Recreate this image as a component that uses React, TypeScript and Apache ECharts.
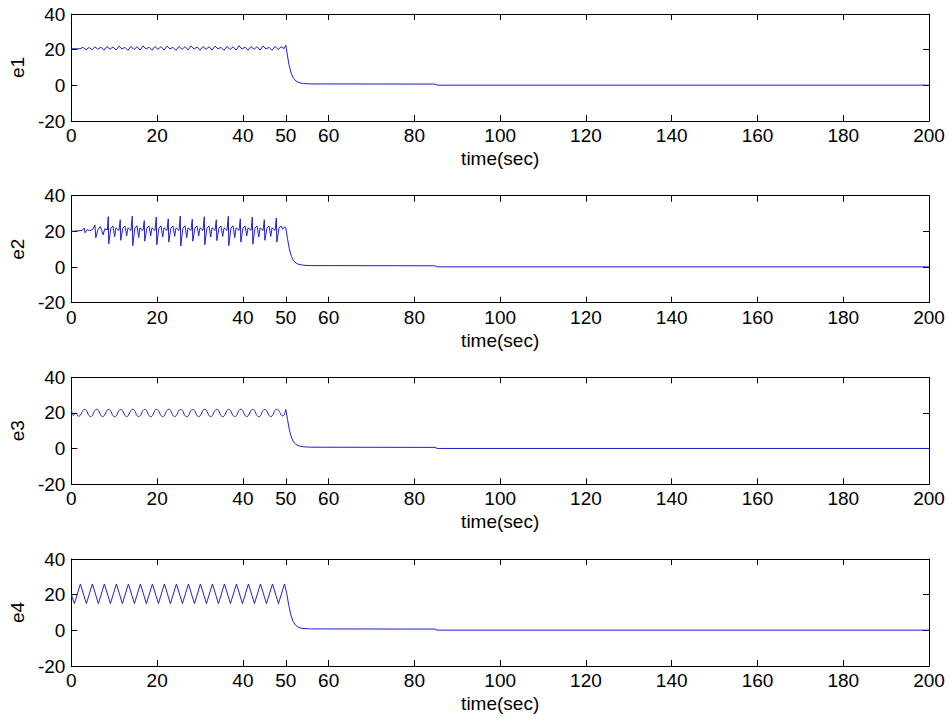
import React, { useEffect, useRef } from "react";
import * as echarts from "echarts";

const X_TICKS = [0, 20, 40, 50, 60, 80, 100, 120, 140, 160, 180, 200];
const Y_TICKS = [-20, 0, 20, 40];
const Y_NAMES = ["e1", "e2", "e3", "e4"];
const X_NAME = "time(sec)";

const e1 = [
  [0, 20.5], [2.0, 20.5], [2.7, 21.3], [3.4, 19.9], [4.1, 21.2], [4.8, 20.0], [5.5, 21.6], [6.2, 20.2],
  [6.9, 21.4], [7.6, 19.7], [8.3, 21.8], [9.0, 20.3], [9.7, 21.5], [10.4, 19.8], [11.1, 22.0], [11.8, 20.4],
  [12.5, 21.3], [13.2, 19.6], [13.9, 21.9], [14.6, 20.1], [15.3, 21.6], [16.0, 19.8], [16.7, 22.1], [17.4, 20.3],
  [18.1, 21.4], [18.8, 19.7], [19.5, 21.8], [20.2, 20.2], [20.9, 21.7], [21.6, 19.8], [22.3, 22.0], [23.0, 20.4],
  [23.7, 21.3], [24.4, 19.6], [25.1, 21.9], [25.8, 20.1], [26.5, 21.7], [27.2, 19.9], [27.9, 22.1], [28.6, 20.3],
  [29.3, 21.5], [30.0, 19.7], [30.7, 21.8], [31.4, 20.2], [32.1, 21.6], [32.8, 19.8], [33.5, 22.0], [34.2, 20.4],
  [34.9, 21.3], [35.6, 19.6], [36.3, 21.9], [37.0, 20.1], [37.7, 21.6], [38.4, 19.8], [39.1, 22.2], [39.8, 20.3],
  [40.5, 21.4], [41.2, 19.7], [41.9, 21.8], [42.6, 20.2], [43.3, 21.7], [44.0, 19.8], [44.7, 22.0], [45.4, 20.4],
  [46.1, 21.3], [46.8, 19.6], [47.5, 21.9], [48.2, 20.1], [48.9, 21.6], [49.6, 20.6], [50.0, 22.5],
  [50.4, 16.5], [50.8, 11], [51.3, 6.5], [51.8, 3.9], [52.4, 2.4], [53.1, 1.5], [54.2, 1.0], [56, 0.8],
  [84.8, 0.7], [85.3, 0.1], [200, 0.1],
];

const e2 = [
  [0, 20], [2.5, 20.5], [3.0, 21.8], [3.2, 19.2], [3.7, 21], [4.3, 20.3], [5.0, 21.2], [5.5, 23.5], [5.7, 16.5],
  [6.2, 21], [6.7, 22.6], [7.1, 20.5], [7.4, 18], [7.8, 21.5], [8.4, 20.8],
  [8.6, 28.2], [8.72, 13], [9.2, 21.8], [9.7, 23], [10.1, 17], [10.4, 22], [11.1, 20.5],
  [11.4, 26.5], [11.52, 15], [12.0, 21.8], [12.5, 23], [12.9, 17.5], [13.2, 22], [13.9, 20.5],
  [14.2, 28.5], [14.32, 12], [14.8, 21.8], [15.3, 23.2], [15.7, 16.5], [16.0, 22], [16.7, 20.5],
  [17.0, 26], [17.12, 14.5], [17.6, 21.8], [18.1, 23], [18.5, 17.5], [18.8, 22], [19.5, 20.5],
  [19.8, 28], [19.92, 12.5], [20.4, 21.8], [20.9, 23.1], [21.3, 16.8], [21.6, 22], [22.3, 20.5],
  [22.6, 27], [22.72, 14], [23.2, 21.8], [23.7, 23], [24.1, 17.2], [24.4, 22], [25.1, 20.5],
  [25.4, 28.6], [25.52, 11.8], [26.0, 21.8], [26.5, 23.2], [26.9, 16.5], [27.2, 22], [27.9, 20.5],
  [28.2, 26.8], [28.32, 14.5], [28.8, 21.8], [29.3, 23], [29.7, 17.5], [30.0, 22], [30.7, 20.5],
  [31.0, 28.2], [31.12, 12.5], [31.6, 21.8], [32.1, 23.1], [32.5, 16.8], [32.8, 22], [33.5, 20.5],
  [33.8, 26.5], [33.92, 14.8], [34.4, 21.8], [34.9, 23], [35.3, 17.2], [35.6, 22], [36.3, 20.5],
  [36.6, 28.4], [36.72, 12], [37.2, 21.8], [37.7, 23.2], [38.1, 16.5], [38.4, 22], [39.1, 20.5],
  [39.4, 27], [39.52, 14], [40.0, 21.8], [40.5, 23], [40.9, 17.5], [41.2, 22], [41.9, 20.5],
  [42.2, 28], [42.32, 12.8], [42.8, 21.8], [43.3, 23.1], [43.7, 16.8], [44.0, 22], [44.7, 20.5],
  [45.0, 26.5], [45.12, 15], [45.6, 21.8], [46.1, 23], [46.5, 17.2], [46.8, 22], [47.5, 20.5],
  [47.8, 27.5], [47.92, 14], [48.4, 21.8], [48.9, 23], [49.3, 21.2], [49.7, 22.5], [50.0, 22],
  [50.4, 16], [50.8, 10.5], [51.3, 6], [51.8, 3.6], [52.4, 2.2], [53.1, 1.4], [54.2, 1.0], [56, 0.8],
  [84.8, 0.7], [85.3, 0.1], [200, 0.1],
];

const e3Osc = [
  [0, 22.2], [0.5, 18.6], [1.0, 20.0], [1.7, 18.2], [3.1, 22], [4.5, 18], [5.9, 22.1], [7.3, 18], [8.7, 22],
  [10.1, 17.9], [11.5, 22], [12.9, 18], [14.3, 22.1], [15.7, 18], [17.1, 22], [18.5, 17.9], [19.9, 22],
  [21.3, 18], [22.7, 22.1], [24.1, 18], [25.5, 22], [26.9, 17.9], [28.3, 22], [29.7, 18], [31.1, 22.1],
  [32.5, 18], [33.9, 22], [35.3, 17.9], [36.7, 22], [38.1, 18], [39.5, 22.1], [40.9, 18], [42.3, 22],
  [43.7, 17.9], [45.1, 22], [46.5, 18], [47.9, 22.1], [49.3, 18.3], [50.0, 22],
];

const e3Decay = [
  [50.0, 22], [50.4, 16.5], [50.8, 11], [51.3, 6.5], [51.8, 3.8], [52.4, 2.3], [53.1, 1.5], [54.2, 1.0],
  [56, 0.8], [84.8, 0.7], [85.3, 0.1], [200, 0.1],
];

const e4 = [
  [0, 20], [0.7, 15], [2.1, 26], [3.5, 15], [4.9, 26], [6.3, 15], [7.7, 26], [9.1, 15], [10.5, 26],
  [11.9, 15], [13.3, 26], [14.7, 15], [16.1, 26], [17.5, 15], [18.9, 26], [20.3, 15], [21.7, 26],
  [23.1, 15], [24.5, 26], [25.9, 15], [27.3, 26], [28.7, 15], [30.1, 26], [31.5, 15], [32.9, 26],
  [34.3, 15], [35.7, 26], [37.1, 15], [38.5, 26], [39.9, 15], [41.3, 26], [42.7, 15], [44.1, 26],
  [45.5, 15], [46.9, 26], [48.3, 15], [49.7, 26],
  [50.2, 21], [50.7, 14], [51.2, 8.5], [51.7, 5], [52.3, 2.8], [53.0, 1.6], [54.0, 1.0], [56, 0.8],
  [84.8, 0.7], [85.3, 0.1], [200, 0.1],
];

const FONT = "'Liberation Sans', Arial, Helvetica, sans-serif";
const LINE_COLOR = "#1f1fd0";

export default function App() {
  const ref = useRef<HTMLDivElement>(null);

  useEffect(() => {
    if (!ref.current) return;
    const chart = echarts.init(ref.current, null, { renderer: "svg" });

    const tops = [14, 195.7, 377.3, 559];
    const grids = tops.map((t) => ({ left: 69.5, right: 23, top: t, height: 107 }));

    const axisLine = { onZero: false, lineStyle: { color: "#000", width: 1 } };
    const text = { color: "#000", fontSize: 19, fontFamily: FONT };

    const xAxes: any[] = [];
    const yAxes: any[] = [];
    tops.forEach((_, i) => {
      xAxes.push({
        gridIndex: i, type: "value", min: 0, max: 200, position: "bottom",
        axisLine, splitLine: { show: false },
        axisTick: { inside: true, length: 6, customValues: X_TICKS, lineStyle: { color: "#000" } },
        axisLabel: { ...text, customValues: X_TICKS, margin: 5 },
        name: X_NAME, nameLocation: "middle", nameGap: 28, nameTextStyle: text,
      });
      xAxes.push({
        gridIndex: i, type: "value", min: 0, max: 200, position: "top",
        axisLine, splitLine: { show: false },
        axisTick: { inside: true, length: 6, customValues: X_TICKS, lineStyle: { color: "#000" } },
        axisLabel: { show: false, customValues: X_TICKS },
      });
      yAxes.push({
        gridIndex: i, type: "value", min: -20, max: 40, interval: 20, position: "left",
        axisLine, splitLine: { show: false },
        axisTick: { inside: true, length: 6, customValues: Y_TICKS, lineStyle: { color: "#000" } },
        axisLabel: { ...text, customValues: Y_TICKS, margin: 6 },
        name: Y_NAMES[i], nameLocation: "middle", nameRotate: 90, nameGap: 38, nameTextStyle: text,
      });
      yAxes.push({
        gridIndex: i, type: "value", min: -20, max: 40, interval: 20, position: "right",
        axisLine, splitLine: { show: false },
        axisTick: { inside: true, length: 6, customValues: Y_TICKS, lineStyle: { color: "#000" } },
        axisLabel: { show: false },
      });
    });

    const mk = (data: number[][], i: number, smooth: boolean | number = false) => ({
      type: "line", data, xAxisIndex: 2 * i, yAxisIndex: 2 * i,
      symbol: "none", showSymbol: false, smooth, silent: true,
      lineStyle: { color: LINE_COLOR, width: 1 },
    });

    chart.setOption({
      animation: false,
      backgroundColor: "#ffffff",
      grid: grids,
      xAxis: xAxes,
      yAxis: yAxes,
      series: [
        mk(e1, 0),
        mk(e2, 1),
        mk(e3Osc, 2, 0.5),
        mk(e3Decay, 2),
        mk(e4, 3),
      ],
    });

    return () => chart.dispose();
  }, []);

  return (
    <div
      ref={ref}
      style={{ position: "fixed", left: 0, top: 0, width: 952, height: 721, background: "#fff" }}
    />
  );
}
